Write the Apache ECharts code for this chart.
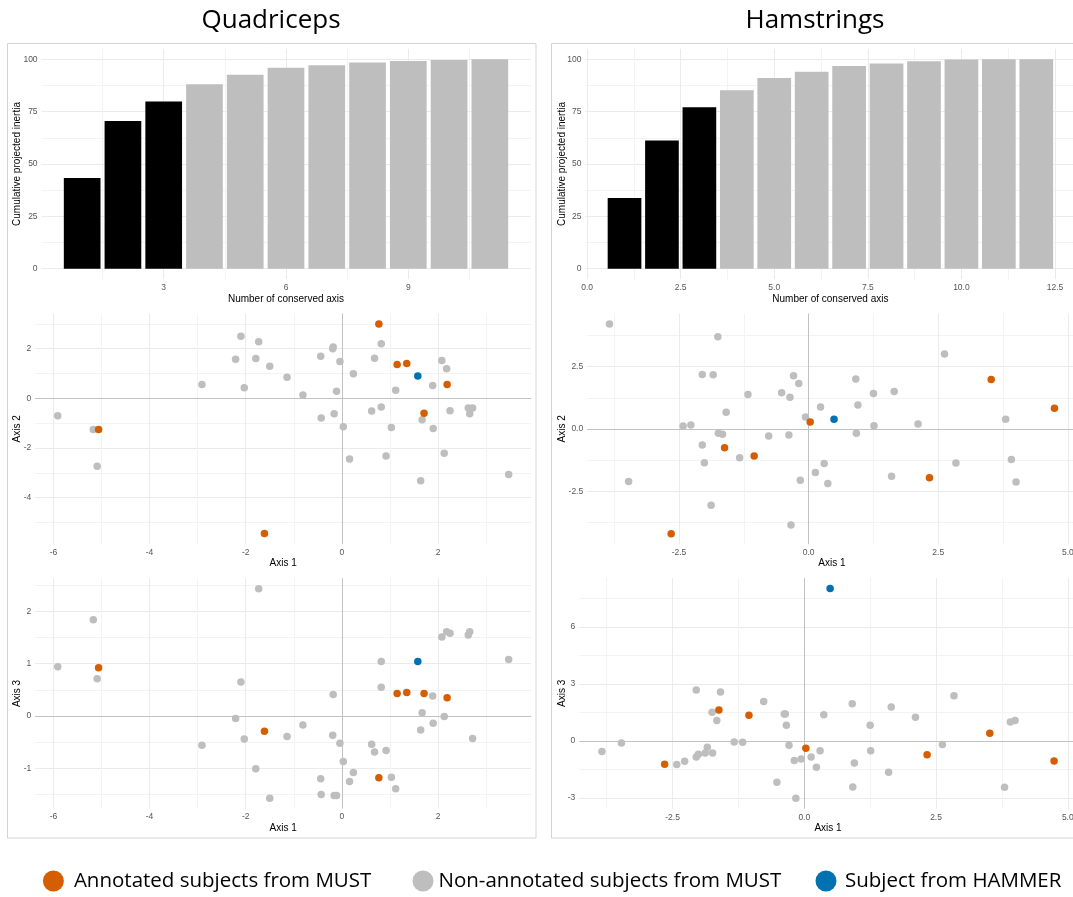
<!DOCTYPE html>
<html><head><meta charset="utf-8">
<script src="https://cdn.jsdelivr.net/npm/echarts@6/dist/echarts.min.js"></script>
<style>html,body{margin:0;padding:0;background:#fff}#c{width:1073px;height:897px}</style>
</head><body><div id="c"></div>
<script>
// ---------- DATA ----------
const quadCumInertia = [43.3, 70.5, 79.8, 88.1, 92.6, 95.9, 97.2, 98.4, 99.2, 99.7, 100];
const hamCumInertia  = [33.8, 61.2, 77.1, 85.2, 91.1, 94.1, 96.8, 98.0, 99.1, 99.9, 100, 100];
const retainedAxes = 3;

// Quadriceps subjects: coordinates on axes 1, 2, 3 and group (A annotated MUST, N non-annotated MUST, H HAMMER)
const quadAxis1 = [-5.91,-5.17,-5.06,-5.09,-2.91,-2.10,-2.21,-2.03,-1.73,-1.79,-1.50,-1.14,-0.81,-1.61,-0.44,-0.18,-0.19,-0.04,-0.11,-0.43,-0.16,0.03,0.24,0.16,0.77,0.82,0.68,1.15,1.35,1.58,1.12,0.62,0.82,1.03,0.92,1.71,1.67,1.64,1.89,1.90,2.08,2.18,2.19,2.25,2.13,2.63,2.72,2.66,3.47];
const quadAxis2 = [-0.70,-1.26,-1.26,-2.74,0.56,2.50,1.57,0.43,2.28,1.60,1.29,0.85,0.13,-5.45,1.69,2.07,2.00,1.48,0.28,-0.79,-0.62,-1.15,0.99,-2.44,2.99,2.20,1.61,1.36,1.40,0.90,0.32,-0.51,-0.35,-1.18,-2.32,-0.60,-0.86,-3.32,0.52,-1.22,1.52,1.19,0.56,-0.50,-2.21,-0.39,-0.39,-0.62,-3.07];
const quadAxis3 = [0.94,1.84,0.92,0.71,-0.56,0.65,-0.05,-0.44,2.43,-1.01,-1.57,-0.39,-0.17,-0.29,-1.20,0.41,-0.37,-0.52,-1.52,-1.50,-1.52,-0.87,-1.08,-1.25,-1.18,1.04,-0.69,0.43,0.45,1.04,-1.39,-0.54,0.55,-1.17,-0.66,0.43,0.06,-0.27,0.38,-0.14,1.51,1.61,0.35,1.58,-0.01,1.55,-0.43,1.61,1.08];
const quadGroup = ['N','N','A','N','N','N','N','N','N','N','N','N','N','A','N','N','N','N','N','N','N','N','N','N','A','N','N','A','A','H','N','N','N','N','N','A','N','N','N','N','N','N','A','N','N','N','N','N','N'];

// Hamstrings subjects
const hamAxis1 = [-3.84,-3.47,-2.65,-2.42,-2.27,-2.05,-1.84,-1.75,-2.05,-2.01,-1.88,-1.74,-1.66,-1.59,-1.62,-1.33,-1.17,-1.05,-0.77,-0.52,-0.36,-0.38,-0.29,-0.19,-0.16,-0.34,-0.06,0.03,0.23,0.49,0.13,0.30,0.37,0.91,0.95,0.92,1.25,1.26,1.65,1.60,2.11,2.33,2.62,2.84,3.52,3.80,3.91,4.00,4.74];
const hamAxis2 = [4.21,-2.11,-4.20,0.12,0.16,2.19,2.18,3.70,-0.64,-1.35,-3.06,-0.17,-0.21,0.67,-0.75,-1.15,1.39,-1.08,-0.28,1.46,1.27,-0.24,2.14,1.83,-2.05,-3.85,0.48,0.28,0.88,0.39,-1.74,-1.38,-2.19,2.01,0.96,-0.17,1.43,0.13,1.51,-1.89,0.20,-1.95,3.01,-1.36,1.99,0.39,-1.22,-2.13,0.83];
const hamAxis3 = [-0.56,-0.11,-1.23,-1.24,-1.07,2.68,-0.33,1.51,-0.84,-0.70,-0.63,-0.63,1.07,2.57,1.63,-0.05,-0.07,1.35,2.07,-2.17,1.42,1.42,-0.23,-1.03,-3.01,0.82,-0.95,-0.39,-1.38,8.02,-0.84,-0.51,1.38,1.96,-1.16,-2.42,0.82,-0.51,1.79,-1.65,1.24,-0.72,-0.18,2.38,0.40,-2.43,1.00,1.07,-1.05];
const hamGroup = ['N','N','A','N','N','N','N','N','N','N','N','N','N','N','A','N','N','A','N','N','N','N','N','N','N','N','N','A','N','H','N','N','N','N','N','N','N','N','N','N','N','A','N','N','A','N','N','N','A'];

// Tick labels (major) and minor grid values
const quadBarXTicks = [3, 6, 9],               quadBarXMinor = [1.5, 4.5, 7.5, 10.5];
const hamBarXTicks  = [0, 2.5, 5, 7.5, 10, 12.5], hamBarXMinor = [1.25, 3.75, 6.25, 8.75, 11.25];
const barYTicks = [0, 25, 50, 75, 100],        barYMinor = [12.5, 37.5, 62.5, 87.5];
const quadX1Ticks = [-6, -4, -2, 0, 2],        quadX1Minor = [-5, -3, -1, 1, 3];
const quadY2Ticks = [-4, -2, 0, 2],            quadY2Minor = [-5, -3, -1, 1, 3];
const quadY3Ticks = [-1, 0, 1, 2],             quadY3Minor = [-1.5, -0.5, 0.5, 1.5, 2.5];
const hamX1Ticks = [-2.5, 0, 2.5, 5],          hamX1Minor = [-3.75, -1.25, 1.25, 3.75];
const hamY2Ticks = [-2.5, 0, 2.5],             hamY2Minor = [-3.75, -1.25, 1.25, 3.75];
const hamY3Ticks = [-3, 0, 3, 6],              hamY3Minor = [-1.5, 1.5, 4.5, 7.5];

const groupNames = {A: 'Annotated subjects from MUST', N: 'Non-annotated subjects from MUST', H: 'Subject from HAMMER'};

// ---------- STYLE / LAYOUT ----------
const groupColors = {A: '#D55E00', N: '#BEBEBE', H: '#0072B2'};
const FONT = 'Liberation Sans';
const grids = [
  {left: 41.6,  top: 48.8,  width: 488.8, height: 230.4}, // 0 quad bar
  {left: 585.4, top: 48.8,  width: 490.0, height: 230.4}, // 1 ham bar
  {left: 35.2,  top: 313.6, width: 496.0, height: 230.5}, // 2 quad 1-2
  {left: 587.2, top: 313.6, width: 489.5, height: 230.6}, // 3 ham 1-2
  {left: 35.2,  top: 578.4, width: 496.0, height: 230.2}, // 4 quad 1-3
  {left: 579.3, top: 577.9, width: 497.4, height: 230.8}  // 5 ham 1-3
].map(g => Object.assign({outerBoundsMode: 'none', containLabel: false}, g));

function expand(vals, m) {
  const lo = Math.min(...vals), hi = Math.max(...vals), s = (hi - lo) * m;
  return [lo - s, hi + s];
}

function mainAxis(g, range, ticks, dec, name, gap) {
  return {
    type: 'value', gridIndex: g, min: range[0], max: range[1],
    axisLine: {show: false},
    axisTick: {show: false, customValues: ticks},
    axisLabel: {customValues: ticks, margin: 4, color: '#555555', fontSize: 8.5, fontFamily: FONT,
      formatter: v => Number(v).toFixed(dec)},
    splitLine: {show: true, lineStyle: {color: '#ebebeb', width: 1}},
    minorTick: {show: false}, minorSplitLine: {show: false},
    name: name, nameLocation: 'middle', nameGap: gap, nameMoveOverlap: false,
    nameTextStyle: {color: '#000', fontSize: 10, fontFamily: FONT}
  };
}
function minorAxis(g, range, ticks) {
  return {
    type: 'value', gridIndex: g, min: range[0], max: range[1],
    axisLine: {show: false},
    axisTick: {show: false, customValues: ticks},
    axisLabel: {show: false, customValues: ticks},
    splitLine: {show: true, lineStyle: {color: '#f3f3f3', width: 1}},
    minorTick: {show: false}, minorSplitLine: {show: false}
  };
}

const quadBarX = expand([1 - 0.45, quadCumInertia.length + 0.45], 0.05);
const hamBarX  = expand([1 - 0.45, hamCumInertia.length + 0.45], 0.05);
const barY = expand([0, 100], 0.05);

const xAxes = [], yAxes = [];
function addAxes(g, xr, xt, xm, xd, xname, xgap, yr, yt, ym, yd, yname, ygap) {
  xAxes[2 * g] = mainAxis(g, xr, xt, xd, xname, xgap);
  xAxes[2 * g + 1] = minorAxis(g, xr, xm);
  yAxes[2 * g] = mainAxis(g, yr, yt, yd, yname, ygap);
  yAxes[2 * g + 1] = minorAxis(g, yr, ym);
}
addAxes(0, quadBarX, quadBarXTicks, quadBarXMinor, 0, 'Number of conserved axis', 15, barY, barYTicks, barYMinor, 0, 'Cumulative projected inertia', 19.6);
addAxes(1, hamBarX, hamBarXTicks, hamBarXMinor, 1, 'Number of conserved axis', 15, barY, barYTicks, barYMinor, 0, 'Cumulative projected inertia', 18.6);
addAxes(2, expand(quadAxis1, 0.05), quadX1Ticks, quadX1Minor, 0, 'Axis 1', 14.5, expand(quadAxis2, 0.05), quadY2Ticks, quadY2Minor, 0, 'Axis 2', 12.6);
addAxes(3, expand(hamAxis1, 0.05), hamX1Ticks, hamX1Minor, 1, 'Axis 1', 14.5, expand(hamAxis2, 0.05), hamY2Ticks, hamY2Minor, 1, 'Axis 2', 20.2);
addAxes(4, expand(quadAxis1, 0.05), quadX1Ticks, quadX1Minor, 0, 'Axis 1', 15, expand(quadAxis3, 0.05), quadY3Ticks, quadY3Minor, 0, 'Axis 3', 12.6);
addAxes(5, expand(hamAxis1, 0.05), hamX1Ticks, hamX1Minor, 1, 'Axis 1', 15, expand(hamAxis3, 0.05), hamY3Ticks, hamY3Minor, 0, 'Axis 3', 12.3);

function barSeries(g, vals) {
  return {
    type: 'bar', xAxisIndex: 2 * g, yAxisIndex: 2 * g, barWidth: '90%',
    data: vals.map((v, i) => ({value: [i + 1, v], itemStyle: {color: i < retainedAxes ? '#000000' : '#BEBEBE'}}))
  };
}
function scatterSeries(g, xs, ys, groups) {
  return ['N', 'A', 'H'].map(code => ({
    type: 'scatter', name: groupNames[code], xAxisIndex: 2 * g, yAxisIndex: 2 * g,
    symbol: 'circle', symbolSize: 7.5, z: 3,
    itemStyle: {color: groupColors[code], opacity: 1},
    data: xs.map((x, i) => [x, ys[i], groups[i]]).filter(d => d[2] === code).map(d => [d[0], d[1]]),
    markLine: code === 'N' ? {
      silent: true, symbol: ['none', 'none'], label: {show: false}, z: 1, animation: false,
      lineStyle: {color: '#c2c2c2', width: 1, type: 'solid'},
      data: [{xAxis: 0}, {yAxis: 0}]
    } : undefined
  }));
}

const series = [
  barSeries(0, quadCumInertia),
  barSeries(1, hamCumInertia),
  ...scatterSeries(2, quadAxis1, quadAxis2, quadGroup),
  ...scatterSeries(3, hamAxis1, hamAxis2, hamGroup),
  ...scatterSeries(4, quadAxis1, quadAxis3, quadGroup),
  ...scatterSeries(5, hamAxis1, hamAxis3, hamGroup)
];

function legendFor(code, left, padLeft) {
  return {
    data: [{name: groupNames[code], icon: 'circle'}], left: left, top: 870.5, padding: 0,
    itemWidth: 21, itemHeight: 21, selectedMode: false,
    textStyle: {fontSize: 20.5, fontFamily: 'Open Sans', color: '#000', padding: [0, 0, 0, padLeft]}
  };
}

const chart = echarts.init(document.getElementById('c'), null, {renderer: 'canvas'});
chart.setOption({
  animation: false,
  backgroundColor: '#ffffff',
  textStyle: {fontFamily: FONT},
  grid: grids,
  xAxis: xAxes,
  yAxis: yAxes,
  series: series,
  legend: [legendFor('A', 42.9, 5), legendFor('N', 412.5, 0), legendFor('H', 815.5, 3.5)],
  graphic: [
    {type: 'rect', shape: {x: 7.5, y: 43.5, width: 528.5, height: 794.5}, style: {fill: 'none', stroke: '#d4d4d4', lineWidth: 1}, silent: true},
    {type: 'rect', shape: {x: 551.5, y: 43.5, width: 540, height: 794.5}, style: {fill: 'none', stroke: '#d4d4d4', lineWidth: 1}, silent: true},
    {type: 'text', x: 271, y: 21, style: {text: 'Quadriceps', fontSize: 26, fontFamily: 'Open Sans', fill: '#000', align: 'center', verticalAlign: 'middle'}, silent: true},
    {type: 'text', x: 815, y: 21, style: {text: 'Hamstrings', fontSize: 26, fontFamily: 'Open Sans', fill: '#000', align: 'center', verticalAlign: 'middle'}, silent: true}
  ]
});
</script>
</body></html>
